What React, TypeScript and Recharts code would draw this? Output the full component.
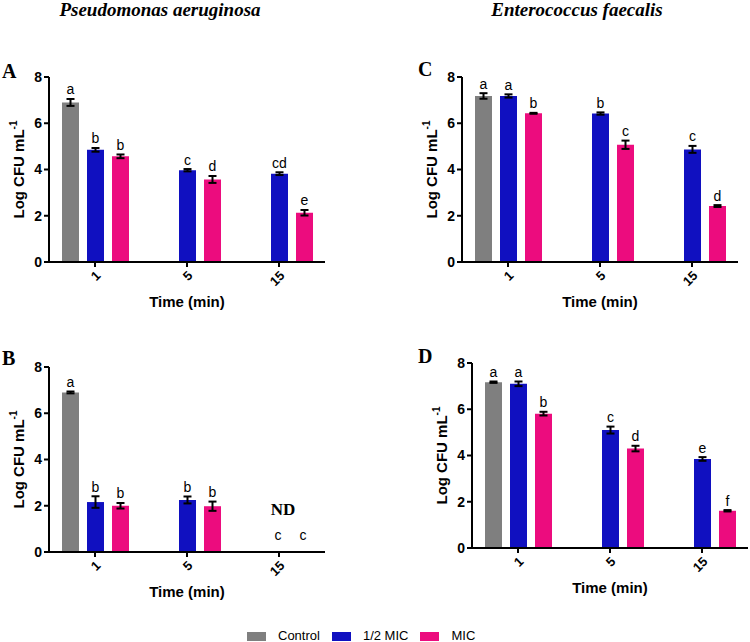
import React from "react";
import { Bar, BarChart, ErrorBar, Label, LabelList, XAxis, YAxis } from "recharts";

const SANS = '"Liberation Sans", Arial, sans-serif';
const SERIF = '"Liberation Serif", "Times New Roman", serif';

const times = ["1", "5", "15"];
const seriesNames = ["Control", "1/2 MIC", "MIC"];
const seriesColors = ["#7f7f7f", "#1010c0", "#ec0c7e"];

// A - P. aeruginosa
const aControl = [6.9, null, null];
const aControlErr = [0.15, null, null];
const aHalf = [4.85, 3.97, 3.82];
const aHalfErr = [0.08, 0.05, 0.06];
const aMic = [4.57, 3.57, 2.13];
const aMicErr = [0.08, 0.15, 0.12];
const aControlLet = ["a", "", ""];
const aHalfLet = ["b", "c", "cd"];
const aMicLet = ["b", "d", "e"];

// B - P. aeruginosa (nothing detected at 15 min)
const bControl = [6.9, null, null];
const bControlErr = [0.04, null, null];
const bHalf = [2.16, 2.25, 0];
const bHalfErr = [0.25, 0.15, 0];
const bMic = [2.0, 1.98, 0];
const bMicErr = [0.12, 0.2, 0];
const bControlLet = ["a", "", ""];
const bHalfLet = ["b", "b", "c"];
const bMicLet = ["b", "b", "c"];
const bNotes = ["", "", "ND"];

// C - E. faecalis
const cControl = [7.18, null, null];
const cControlErr = [0.12, null, null];
const cHalf = [7.18, 6.42, 4.87];
const cHalfErr = [0.07, 0.05, 0.15];
const cMic = [6.43, 5.07, 2.42];
const cMicErr = [0.02, 0.18, 0.04];
const cControlLet = ["a", "", ""];
const cHalfLet = ["a", "b", "c"];
const cMicLet = ["b", "c", "d"];

// D - E. faecalis
const dControl = [7.17, null, null];
const dControlErr = [0.03, null, null];
const dHalf = [7.1, 5.1, 3.85];
const dHalfErr = [0.1, 0.15, 0.08];
const dMic = [5.81, 4.3, 1.61];
const dMicErr = [0.08, 0.12, 0.03];
const dControlLet = ["a", "", ""];
const dHalfLet = ["a", "c", "e"];
const dMicLet = ["b", "d", "f"];

const PLOT_H = 185;
const PX_PER_UNIT = PLOT_H / 8;
const BAR_SIZE = 17;
const BAR_GAP = 8;
const KEYS = ["ctrl", "half", "mic"];

type Row = Record<string, string | number | null>;

function buildRows(
  ctrl: (number | null)[], ctrlErr: (number | null)[], ctrlLet: string[],
  half: number[], halfErr: number[], halfLet: string[],
  mic: number[], micErr: number[], micLet: string[],
  notes?: string[]
): Row[] {
  return times.map((t, i) => ({
    time: t,
    ctrl: ctrl[i], ctrlErr: ctrlErr[i], ctrlLet: ctrlLet[i],
    half: half[i], halfErr: halfErr[i], halfLet: halfLet[i],
    mic: mic[i], micErr: micErr[i], micLet: micLet[i],
    note: notes ? notes[i] : "",
  }));
}

function makeLetter(errs: (number | null)[]) {
  return function LetterLabel(props: any) {
    const vb = props.viewBox ?? props;
    const x = vb.x ?? props.x;
    const y = vb.y ?? props.y;
    const width = vb.width ?? props.width;
    const height = vb.height ?? props.height;
    const i = props.index;
    const v = props.value;
    // zero bars are annotated by the axis tick instead
    if (x == null || y == null || !v || Math.abs(height) < 0.5) return null;
    const err = errs[i] ?? 0;
    return (
      <text
        x={x + width / 2}
        y={y - err * PX_PER_UNIT - 4.5}
        textAnchor="middle"
        fontFamily={SANS}
        fontSize={14}
        fill="#000"
      >
        {v}
      </text>
    );
  };
}

function makeXTick(rows: Row[]) {
  return function XTick(props: any) {
    const { x, y, payload, index } = props;
    const ax = x + 4;
    const ay = y + 5;
    const axisY = y - 7;
    const row = rows[index] ?? rows.find((r) => r.time === payload.value);
    const step = BAR_SIZE + BAR_GAP;
    return (
      <g>
        <text
          x={ax}
          y={ay}
          transform={`rotate(-45, ${ax}, ${ay})`}
          textAnchor="end"
          dominantBaseline="middle"
          fontFamily={SANS}
          fontWeight={700}
          fontSize={13}
          fill="#000"
        >
          {payload.value}
        </text>
        {row
          ? KEYS.map((k, s) =>
              row[k] === 0 && row[`${k}Let`] ? (
                <text
                  key={k}
                  x={x + (s - 1) * step - 1}
                  y={axisY - 12}
                  textAnchor="middle"
                  fontFamily={SANS}
                  fontSize={14}
                  fill="#000"
                >
                  {row[`${k}Let`]}
                </text>
              ) : null
            )
          : null}
        {row && row.note ? (
          <text
            x={x + 4}
            y={axisY - 37}
            textAnchor="middle"
            fontFamily={SERIF}
            fontWeight={700}
            fontSize={17}
            fill="#000"
          >
            {row.note}
          </text>
        ) : null}
      </g>
    );
  };
}

function YLabel(props: any) {
  const vb = props.viewBox;
  const cx = vb.x + 11;
  const cy = vb.y + vb.height / 2;
  return (
    <text
      x={cx}
      y={cy}
      transform={`rotate(-90, ${cx}, ${cy})`}
      textAnchor="middle"
      dominantBaseline="middle"
      fontFamily={SANS}
      fontWeight={700}
      fontSize={15}
      fill="#000"
    >
      <tspan>Log CFU mL</tspan>
      <tspan dy={-6} fontSize={10}>-1</tspan>
    </text>
  );
}

type PanelProps = {
  rows: Row[];
  errs: (number | null)[][];
  left: number;
  top: number;
};

function Panel({ rows, errs, left, top }: PanelProps) {
  return (
    <div style={{ position: "absolute", left, top }}>
      <BarChart
        width={375}
        height={260}
        data={rows}
        margin={{ top: 17, right: 50, bottom: 8, left: 9 }}
        barSize={BAR_SIZE}
        barGap={BAR_GAP}
      >
        <XAxis
          dataKey="time"
          height={50}
          interval={0}
          axisLine={{ stroke: "#000", strokeWidth: 2 }}
          tickLine={{ stroke: "#000", strokeWidth: 2 }}
          tickSize={5}
          tick={makeXTick(rows)}
        >
          <Label
            value="Time (min)"
            position="insideBottom"
            offset={5}
            style={{ fontFamily: SANS, fontWeight: 700, fontSize: 15, fill: "#000" }}
          />
        </XAxis>
        <YAxis
          type="number"
          domain={[0, 8]}
          ticks={[0, 2, 4, 6, 8]}
          width={40}
          axisLine={{ stroke: "#000", strokeWidth: 2 }}
          tickLine={{ stroke: "#000", strokeWidth: 2 }}
          tickSize={5}
          tick={{ fontFamily: SANS, fontWeight: 700, fontSize: 14, fill: "#000" }}
        >
          <Label content={YLabel} />
        </YAxis>
        {KEYS.map((k, s) => (
          <Bar key={k} dataKey={k} name={seriesNames[s]} fill={seriesColors[s]} isAnimationActive={false}>
            <ErrorBar dataKey={`${k}Err`} width={4} strokeWidth={2} stroke="#000" />
            <LabelList dataKey={`${k}Let`} content={makeLetter(errs[s])} />
          </Bar>
        ))}
      </BarChart>
    </div>
  );
}

const rowsA = buildRows(aControl, aControlErr, aControlLet, aHalf, aHalfErr, aHalfLet, aMic, aMicErr, aMicLet);
const rowsB = buildRows(bControl, bControlErr, bControlLet, bHalf, bHalfErr, bHalfLet, bMic, bMicErr, bMicLet, bNotes);
const rowsC = buildRows(cControl, cControlErr, cControlLet, cHalf, cHalfErr, cHalfLet, cMic, cMicErr, cMicLet);
const rowsD = buildRows(dControl, dControlErr, dControlLet, dHalf, dHalfErr, dHalfLet, dMic, dMicErr, dMicLet);

const panelLetter: React.CSSProperties = {
  position: "absolute",
  fontFamily: SERIF,
  fontWeight: 700,
  fontSize: 20,
  lineHeight: "20px",
};

const title: React.CSSProperties = {
  position: "absolute",
  fontFamily: SERIF,
  fontWeight: 700,
  fontStyle: "italic",
  fontSize: 19,
  lineHeight: "19px",
  transform: "translateX(-50%)",
  whiteSpace: "nowrap",
};

export default function App() {
  return (
    <div
      style={{
        position: "absolute",
        left: 0,
        top: 0,
        width: 750,
        height: 642,
        background: "#fff",
        overflow: "hidden",
      }}
    >
      <div style={{ ...title, left: 160, top: 0 }}>Pseudomonas aeruginosa</div>
      <div style={{ ...title, left: 577, top: 0 }}>Enterococcus faecalis</div>

      <div style={{ ...panelLetter, left: 2, top: 61 }}>A</div>
      <div style={{ ...panelLetter, left: 2, top: 348 }}>B</div>
      <div style={{ ...panelLetter, left: 418, top: 59 }}>C</div>
      <div style={{ ...panelLetter, left: 418, top: 346 }}>D</div>

      <Panel rows={rowsA} errs={[aControlErr, aHalfErr, aMicErr]} left={0} top={60} />
      <Panel rows={rowsB} errs={[bControlErr, bHalfErr, bMicErr]} left={0} top={350} />
      <Panel rows={rowsC} errs={[cControlErr, cHalfErr, cMicErr]} left={413} top={60} />
      <Panel rows={rowsD} errs={[dControlErr, dHalfErr, dMicErr]} left={423} top={346} />

      <div
        style={{
          position: "absolute",
          left: 247,
          top: 628,
          display: "flex",
          alignItems: "center",
          fontFamily: SANS,
          fontSize: 13,
          lineHeight: "16px",
        }}
      >
        {seriesNames.map((n, i) => (
          <div key={n} style={{ display: "flex", alignItems: "center", marginRight: 12 }}>
            <span style={{ width: 19, height: 9, background: seriesColors[i], marginRight: 12 }} />
            <span>{n}</span>
          </div>
        ))}
      </div>
    </div>
  );
}
